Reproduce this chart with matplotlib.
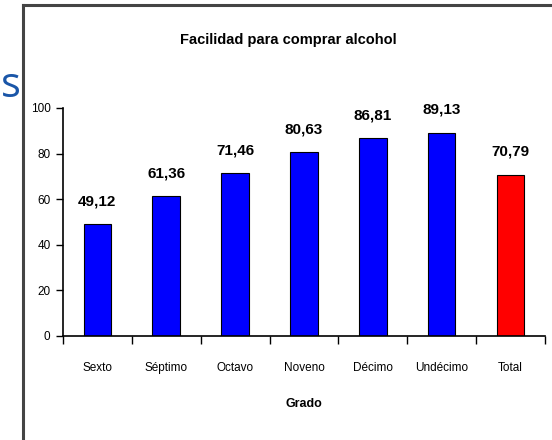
import matplotlib.pyplot as plt
import numpy as np

plt.rcParams['font.family'] = ['Liberation Sans', 'DejaVu Sans']

grados = ['Sexto', 'Séptimo', 'Octavo', 'Noveno', 'Décimo', 'Undécimo', 'Total']
valores = [49.12, 61.36, 71.46, 80.63, 86.81, 89.13, 70.79]
colores = ['#0000ff'] * 6 + ['#ff0000']

fig = plt.figure(figsize=(5.52, 4.40), dpi=100)

# slide frame and the cut-off letter at the left
fig.add_artist(plt.Line2D([0.0408, 0.0408], [0, 0.988], color='#444444', lw=2.2))
fig.add_artist(plt.Line2D([0.0408, 1], [0.988, 0.988], color='#444444', lw=2.2))
fig.text(0.002, 0.7795, 's', color='#1a56a8', fontsize=30, family='Open Sans', ha='left', va='baseline')

ax = fig.add_axes([0.1141, 0.2364, 0.8732, 0.5182])
x = np.arange(len(grados))
ax.bar(x, valores, width=0.4, color=colores, edgecolor='black', linewidth=0.8)

for xi, v in zip(x, valores):
    ax.text(xi, v + 8.3, f'{v:.2f}'.replace('.', ','), ha='center', va='baseline',
            fontsize=11, fontweight='bold')

ax.set_xlim(-0.5, len(grados) - 0.5)
ax.set_ylim(0, 100)
ax.set_yticks(range(0, 101, 20))
ax.set_xticks(np.arange(-0.5, len(grados), 1))
ax.set_xticklabels([])
ax.set_xticks(x, minor=True)
ax.set_xticklabels(grados, minor=True, fontsize=8.5)
ax.tick_params(axis='x', which='minor', length=0, pad=19)
ax.tick_params(axis='x', which='major', length=6, width=1, direction='out')
ax.tick_params(axis='y', length=5, width=1, labelsize=8.5, pad=4)

for s in ['top', 'right']:
    ax.spines[s].set_visible(False)
ax.spines['left'].set_linewidth(1.2)
ax.spines['bottom'].set_linewidth(1.2)

ax.set_xlabel('Grado', fontsize=9, fontweight='bold', labelpad=17)
fig.text(0.522, 0.909, 'Facilidad para comprar alcohol', ha='center', va='center',
         fontsize=10.5, fontweight='bold')

fig.savefig('out.png', dpi=100)
